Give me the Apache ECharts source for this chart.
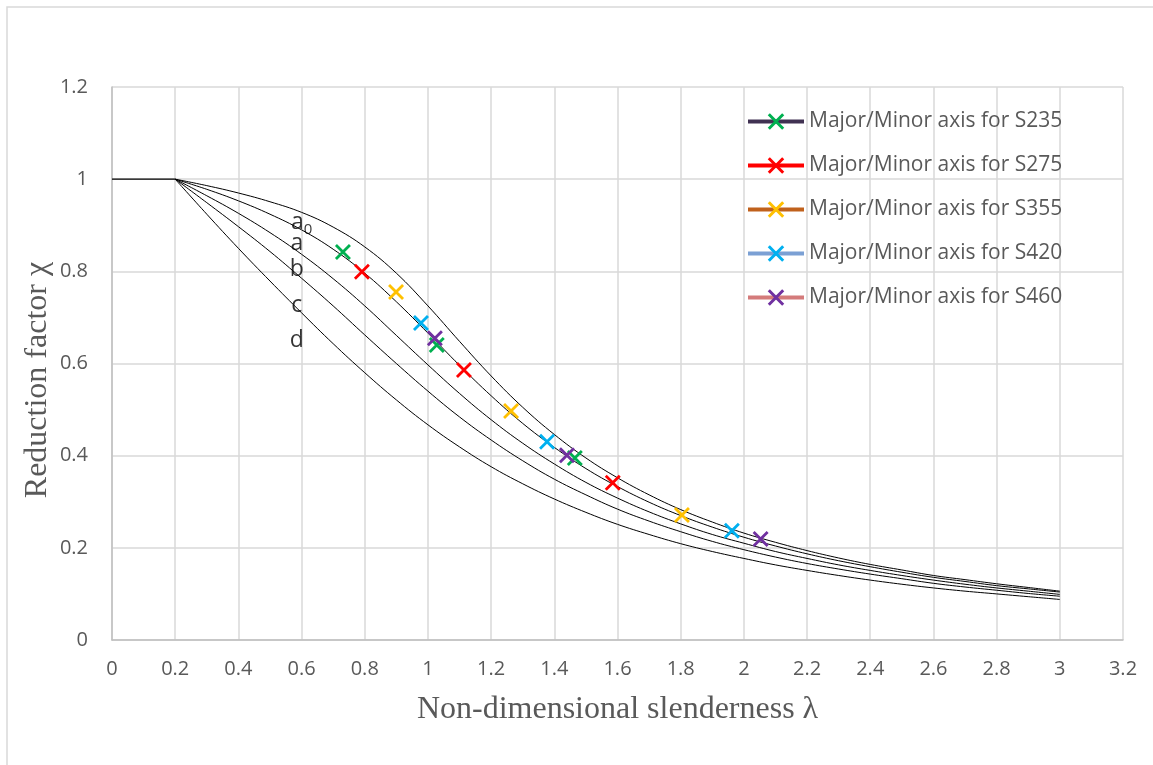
<!DOCTYPE html>
<html>
<head>
<meta charset="utf-8">
<script src="https://cdn.jsdelivr.net/npm/echarts@6/dist/echarts.min.js"></script>
<style>
  html, body { margin: 0; padding: 0; background: #fff; }
  #chart { width: 1153px; height: 765px; }
</style>
</head>
<body>
<div id="chart"></div>
<script>
// slenderness values for the buckling curves (from 0.2 on, plateau is drawn separately)
const lambda = [0.2, 0.3, 0.4, 0.5, 0.6, 0.7, 0.8, 0.9, 1.0, 1.1, 1.2, 1.3, 1.4, 1.5,
  1.6, 1.7, 1.8, 1.9, 2.0, 2.1, 2.2, 2.3, 2.4, 2.5, 2.6, 2.7, 2.8, 2.9, 3.0]
const plateau = [[0, 1], [0.2, 1]]

// reduction factor for each curve
const curveA0 = [1, 0.986, 0.970, 0.951, 0.928, 0.896, 0.853, 0.796, 0.725, 0.648, 0.573, 0.505,
  0.446, 0.395, 0.352, 0.315, 0.283, 0.256, 0.232, 0.212, 0.194, 0.178, 0.164, 0.152, 0.140, 0.131, 0.122, 0.114, 0.106]
const curveA = [1, 0.978, 0.953, 0.924, 0.890, 0.848, 0.796, 0.734, 0.666, 0.596, 0.530, 0.470,
  0.418, 0.372, 0.333, 0.299, 0.270, 0.245, 0.223, 0.204, 0.187, 0.172, 0.159, 0.147, 0.136, 0.127, 0.118, 0.111, 0.104]
const curveB = [1, 0.964, 0.926, 0.884, 0.837, 0.784, 0.725, 0.661, 0.597, 0.535, 0.478, 0.427,
  0.382, 0.342, 0.308, 0.278, 0.252, 0.229, 0.210, 0.192, 0.177, 0.163, 0.151, 0.140, 0.130, 0.121, 0.113, 0.106, 0.099]
const curveC = [1, 0.949, 0.897, 0.843, 0.785, 0.725, 0.662, 0.600, 0.540, 0.484, 0.434, 0.389,
  0.349, 0.315, 0.284, 0.258, 0.235, 0.214, 0.196, 0.180, 0.166, 0.154, 0.143, 0.133, 0.123, 0.115, 0.108, 0.101, 0.095]
const curveD = [1, 0.924, 0.850, 0.779, 0.710, 0.643, 0.580, 0.521, 0.467, 0.419, 0.376, 0.339,
  0.306, 0.277, 0.251, 0.229, 0.209, 0.192, 0.177, 0.163, 0.151, 0.140, 0.130, 0.121, 0.113, 0.106, 0.100, 0.094, 0.088]

// curve labels: [x, y, text]
const curveLabels = [
  [0.60, 0.905, '{t|a}{s|0}'],
  [0.585, 0.860, 'a'],
  [0.585, 0.805, 'b'],
  [0.585, 0.727, 'c'],
  [0.585, 0.649, 'd']
]

// section points per steel grade
const grades = ['Major/Minor axis for S235', 'Major/Minor axis for S275', 'Major/Minor axis for S355',
  'Major/Minor axis for S420', 'Major/Minor axis for S460']
const s235 = [[0.731, 0.842], [1.028, 0.640], [1.465, 0.395]]
const s275 = [[0.791, 0.799], [1.114, 0.586], [1.585, 0.341]]
const s355 = [[0.899, 0.755], [1.263, 0.497], [1.804, 0.271]]
const s420 = [[0.978, 0.688], [1.377, 0.430], [1.962, 0.237]]
const s460 = [[1.022, 0.655], [1.440, 0.401], [2.053, 0.219]]

const markerColors = ['#00b050', '#ff0000', '#ffc000', '#00b0f0', '#7030a0']
const legendLineColors = ['#403152', '#ff0000', '#c0611c', '#7ba0d4', '#d47b7b']

const chart = echarts.init(document.getElementById('chart'))

const cross = 'path://M0,0L10,10M10,0L0,10'
const curves = [curveA0, curveA, curveB, curveC, curveD]
const series = []

series.push({
  type: 'line',
  data: plateau,
  showSymbol: false,
  silent: true,
  lineStyle: { color: '#000', width: 1.2 },
  z: 2
})

curves.forEach((c) => {
  series.push({
    type: 'line',
    data: lambda.map((x, k) => [x, c[k]]),
    showSymbol: false,
    smooth: 0.4,
    silent: true,
    lineStyle: { color: '#000', width: 1 },
    z: 2
  })
})

const points = [s235, s275, s355, s420, s460]
points.forEach((p, i) => {
  series.push({
    name: grades[i],
    type: 'line',
    data: p,
    lineStyle: { width: 0, color: legendLineColors[i] },
    symbol: cross,
    symbolSize: 14,
    itemStyle: { color: 'transparent', borderColor: markerColors[i], borderWidth: 2.8 },
    z: 4
  })
})

series.push({
  type: 'scatter',
  data: curveLabels,
  symbolSize: 0,
  silent: true,
  label: {
    show: true,
    position: 'inside',
    formatter: (p) => p.data[2],
    color: '#000',
    fontFamily: 'Open Sans',
    fontSize: 23,
    rich: {
      t: { fontSize: 23, fontFamily: 'Open Sans', color: '#000' },
      s: { fontSize: 15, fontFamily: 'Open Sans', color: '#000', verticalAlign: 'bottom', padding: [14, 0, 0, 0] }
    }
  },
  z: 5
})

const option = {
  animation: false,
  backgroundColor: '#fff',
  graphic: [
    {
      type: 'rect',
      shape: { x: 7, y: 7, width: 1200, height: 800 },
      style: { fill: 'none', stroke: '#d9d9d9', lineWidth: 1.5 },
      silent: true
    },
    {
      type: 'text',
      x: 38,
      y: 380,
      rotation: Math.PI / 2,
      style: {
        text: 'Reduction factor χ',
        font: '32px "Liberation Serif"',
        fill: '#595959',
        align: 'center',
        verticalAlign: 'middle'
      },
      silent: true
    }
  ],
  legend: {
    orient: 'vertical',
    left: 741,
    top: 106,
    itemWidth: 56,
    itemHeight: 18,
    itemGap: 23,
    textStyle: { fontFamily: 'Open Sans', fontSize: 21, color: '#595959' },
    data: grades.map((g, i) => ({
      name: g,
      lineStyle: { width: 4, color: legendLineColors[i], opacity: 1 },
      itemStyle: { color: 'transparent', borderColor: markerColors[i], borderWidth: 3 }
    }))
  },
  grid: {
    left: 112,
    right: 30,
    top: 87,
    bottom: 125
  },
  xAxis: {
    type: 'value',
    min: 0,
    max: 3.2,
    interval: 0.2,
    name: 'Non-dimensional slenderness λ',
    nameLocation: 'middle',
    nameGap: 54,
    nameTextStyle: { fontFamily: 'Liberation Serif', fontSize: 32, color: '#595959' },
    axisLine: { lineStyle: { color: '#bfbfbf', width: 1.5 } },
    axisTick: { show: false },
    axisLabel: { fontFamily: 'Open Sans', fontSize: 20, color: '#595959', margin: 19 },
    splitLine: { lineStyle: { color: '#d9d9d9', width: 1.5 } }
  },
  yAxis: {
    type: 'value',
    min: 0,
    max: 1.2,
    interval: 0.2,
    axisLine: { show: true, lineStyle: { color: '#bfbfbf', width: 1.5 } },
    axisTick: { show: false },
    axisLabel: { fontFamily: 'Open Sans', fontSize: 20, color: '#595959', margin: 24 },
    splitLine: { lineStyle: { color: '#d9d9d9', width: 1.5 } }
  },
  series: series
}

option && chart.setOption(option)
</script>
</body>
</html>
